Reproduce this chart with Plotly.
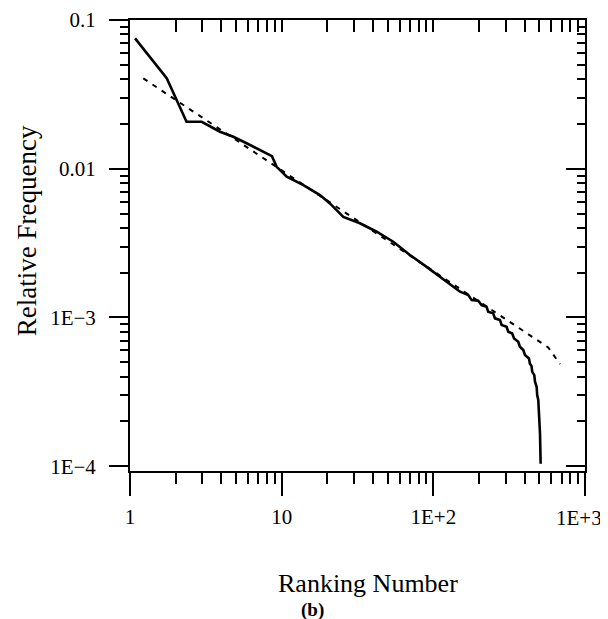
import plotly.graph_objects as go

# ---- data ----
rank = [1.08, 1.746, 2.36, 2.97, 3.92, 4.8, 5.87, 7.2, 8.63, 9.27, 10.8, 13.9, 17.9,
        20.8, 25.5, 32.8, 42.3, 54.4, 70.1, 90.3, 122, 150, 170, 178.9, 197.7, 208,
        224.4, 230, 248, 255, 275, 282, 304, 312, 331, 341, 363, 372, 392, 402, 427,
        433, 444, 449, 463, 468, 480, 484, 492, 497, 505, 510]
freq = [0.0753, 0.0406, 0.0207, 0.0207, 0.01774, 0.01641, 0.01483, 0.01336, 0.01216,
        0.0103, 0.00883, 0.00777, 0.00665, 0.00585, 0.00475, 0.0043, 0.00377, 0.00323,
        0.00263, 0.00219, 0.00174, 0.00149, 1.416e-3, 1.309e-3, 1.295e-3, 1.211e-3,
        1.180e-3, 1.092e-3, 1.066e-3, 9.87e-4, 9.62e-4, 8.90e-4, 8.67e-4, 8.02e-4,
        7.81e-4, 7.23e-4, 6.87e-4, 6.36e-4, 6.04e-4, 5.59e-4, 5.31e-4, 4.91e-4,
        4.71e-4, 4.31e-4, 4.10e-4, 3.70e-4, 3.42e-4, 3.01e-4, 2.79e-4, 2.38e-4,
        1.66e-4, 1.04e-4]

fit_rank = [1.224, 572, 684]
fit_freq = [0.0405, 6.29e-4, 4.86e-4]

x_major_vals = [1, 10, 100, 1000]
x_major_text = ["1", "10", "1E+2", "1E+3"]
y_major_vals = [0.1, 0.01, 0.001, 0.0001]
y_major_text = ["0.1", "0.01", "1E\u22123", "1E\u22124"]

x_minor_vals = [m * d for d in (1, 10, 100) for m in range(2, 10)]
y_minor_vals = [m * d for d in (1e-4, 1e-3, 1e-2) for m in range(2, 10)]
x_top_vals = x_minor_vals + [10, 100]

FONT = "Liberation Serif"
XR = [0, 3]
YR = [-4.032, -1]

fig = go.Figure()
fig.add_trace(go.Scatter(x=rank, y=freq, mode="lines",
                         line=dict(color="black", width=2.6), showlegend=False,
                         hoverinfo="skip"))
fig.add_trace(go.Scatter(x=fit_rank, y=fit_freq, mode="lines",
                         line=dict(color="black", width=2, dash="5px,6px"),
                         showlegend=False, hoverinfo="skip"))
# invisible anchors for the decorative axes
for xa, ya in (("x2", "y2"), ("x3", "y3"), ("x", "y4")):
    fig.add_trace(go.Scatter(x=[10], y=[0.01], xaxis=xa, yaxis=ya, mode="markers",
                             marker=dict(opacity=0), showlegend=False, hoverinfo="skip"))

common = dict(type="log", showgrid=False, zeroline=False, color="black",
              tickcolor="black", tickwidth=2, linecolor="black", linewidth=2,
              automargin=False)

# the last x label sits at the page edge: drawn as an annotation so it is not clipped
x_tick_text_axis = x_major_text[:-1] + [""]

# page body has an 8px margin, so the figure is laid out 8px up/left
fig.update_layout(
    template="none",
    width=608, height=619,
    margin=dict(l=122, r=31, t=12, b=156),
    paper_bgcolor="white", plot_bgcolor="white",
    font=dict(family=FONT, color="black"),
    xaxis=dict(**common, range=XR, anchor="y", side="bottom",
               tickmode="array", tickvals=x_major_vals, ticktext=x_tick_text_axis,
               ticks="outside", ticklen=23, showline=True,
               tickfont=dict(family=FONT, size=21), ticklabelstandoff=3,
               ticklabeloverflow="allow"),
    xaxis3=dict(**common, range=XR, anchor="y", side="bottom", overlaying="x",
                tickmode="array", tickvals=x_minor_vals, ticks="outside", ticklen=12,
                showline=False, showticklabels=False),
    xaxis2=dict(**common, range=XR, anchor="y", side="top", overlaying="x",
                tickmode="array", tickvals=x_top_vals, ticks="inside", ticklen=12,
                showline=True, showticklabels=False),
    yaxis=dict(**common, range=YR, anchor="x", side="left",
               tickmode="array", tickvals=y_major_vals, ticktext=y_major_text,
               ticks="outside", ticklen=19, showline=True,
               tickfont=dict(family=FONT, size=21), ticklabelstandoff=9,
               ticklabeloverflow="allow"),
    yaxis3=dict(**common, range=YR, anchor="x", side="left", overlaying="y",
                tickmode="array", tickvals=y_minor_vals, ticks="outside", ticklen=9,
                showline=False, showticklabels=False),
    yaxis2=dict(**common, range=YR, anchor="x", side="right", overlaying="y",
                tickmode="array", tickvals=y_major_vals, ticks="inside", ticklen=19,
                showline=True, showticklabels=False),
    yaxis4=dict(**common, range=YR, anchor="x", side="right", overlaying="y",
                tickmode="array", tickvals=y_minor_vals, ticks="inside", ticklen=8,
                showline=False, showticklabels=False),
    annotations=[
        dict(text=x_major_text[-1], xref="paper", yref="paper", x=0.987, y=-0.104,
             xanchor="center", yanchor="middle", showarrow=False,
             font=dict(family=FONT, size=21)),
        dict(text="Ranking Number", xref="paper", yref="paper", x=0.523, y=-0.249,
             xanchor="center", yanchor="middle", showarrow=False,
             font=dict(family=FONT, size=26)),
        dict(text="<b>(b)</b>", xref="paper", yref="paper", x=0.40, y=-0.309,
             xanchor="center", yanchor="middle", showarrow=False,
             font=dict(family=FONT, size=19)),
        dict(text="Relative Frequency", xref="paper", yref="paper", x=-0.226, y=0.532,
             xanchor="center", yanchor="middle", showarrow=False, textangle=-90,
             font=dict(family=FONT, size=27)),
    ],
)

fig.write_html("out.html")
